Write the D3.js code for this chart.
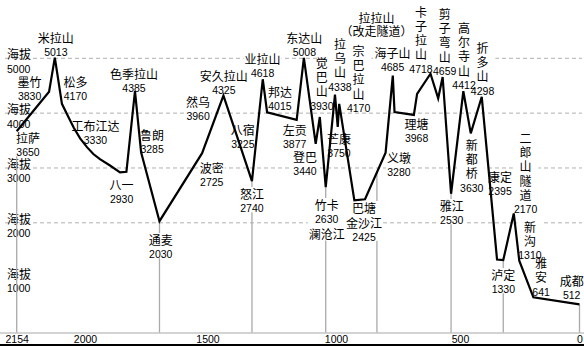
<!DOCTYPE html>
<html><head><meta charset="utf-8">
<script src="https://cdn.jsdelivr.net/npm/d3@7"></script>
<style>
html,body{margin:0;padding:0;background:#fff;overflow:hidden}
svg{display:block}
.cn{font-family:"Noto Sans CJK SC",sans-serif;font-size:12px;fill:#000}
.num{font-family:"Liberation Sans",Arial,sans-serif;font-size:10.5px;fill:#000}
.vert{writing-mode:vertical-rl;text-orientation:upright;letter-spacing:2.2px}
</style></head><body>
<svg id="chart" width="584" height="362"></svg>
<script>
// ---- data (distance to Chengdu in km, elevation in m) ----
const profileKm   = [2154,2081,2068,2052,2038,2025,2011,1992,1966,1939,1898,1857,1831,1796,1771,1696,1522,1438,1327,1285,1268,1153,1125,1079,1063,1040,1004,993,987,926,883,800,771,764,686,673,619,588,570,536,486,455,409,345,319,275,252,193,0];
const profileElev = [3670,4390,5013,4170,3940,3730,3540,3380,3255,3160,3045,2920,2930,4400,3285,2030,3270,4320,2760,4618,4015,3877,5008,3440,3930,2650,4338,3750,4170,2410,2430,3280,4685,4020,3968,4350,4718,4270,4659,2530,4400,3630,4298,1330,1320,2170,1310,641,512];

const stationNames = ["拉萨","墨竹","米拉山","松多","工布江达","八一","色季拉山","鲁朗","通麦","波密","然乌","安久拉山","八宿","怒江","业拉山","邦达","左贡","东达山","登巴","觉巴山","竹卡","拉乌山","芒康","宗巴拉山","拉拉山","巴塘","义墩","海子山","理塘","卡子拉山","剪子弯山","雅江","高尔寺山","新都桥","折多山","康定","泸定","二郎山隧道","新沟","雅安","成都"];
const stationKm    = [2154,2081,2068,2052,1992,1831,1796,1771,1696,1599,1522,1438,1360,1327,1285,1268,1153,1125,1079,1063,1040,1004,993,987,839,926,800,771,686,619,570,536,486,455,409,368,345,275,252,193,0];
const stationElev  = [3650,3830,5013,4170,3330,2930,4385,3285,2030,2725,3960,4325,3225,2740,4618,4015,3877,5008,3440,3930,2630,4338,3750,4170,null,2425,3280,4685,3968,4718,4659,2530,4412,3630,4298,2395,1330,2170,1310,641,512];
const stationNotes = {"竹卡":"澜沧江","巴塘":"金沙江","拉拉山":"（改走隧道）"};

const xTicks     = [2154,2000,1500,1000,500,0];
const yLabelVals = [1000,2000,3000,4000,5000];
const gridVals   = [2000,3000,4000,5000];
const dropKm     = [2154,1696,1327,1040,835,536,319,0];

// ---- layout (label offsets in px from the station point) ----
const xKnotPx = [16.7,85,207.5,336,460,579.5]; // original axis is not uniform
const layout = {
 "拉萨":{dx:11.3,dy:10.7},"墨竹":{dx:-19.5,dy:-35.5},"米拉山":{dx:1,dy:-14.6},"松多":{dx:13.5,dy:-16.8},
 "工布江达":{dx:8.5,dy:-18.9},"八一":{dx:-4.8,dy:18.2},"色季拉山":{dx:-1,dy:-13},"鲁朗":{dx:11,dy:-12.3},
 "通麦":{dx:1.3,dy:23.8},"波密":{dx:28.5,dy:-10.1},"然乌":{dx:-4,dy:-8.3},"安久拉山":{dx:0.4,dy:-14.3},
 "八宿":{dx:-0.6,dy:-20.6},"怒江":{dx:0,dy:16.8},"业拉山":{dx:-0.2,dy:-15.3},"邦达":{dx:12.8,dy:-15.3},
 "左贡":{dx:-2,dy:15.1},"东达山":{dx:0.5,dy:-14.9},"登巴":{dx:-10.7,dy:18.2},"觉巴山":{dx:2,dy:-49,v:true},
 "竹卡":{dx:1,dy:21.7},"拉乌山":{dx:5,dy:-45.6,v:true},"芒康":{dx:1.3,dy:17.1},"宗巴拉山":{dx:19.4,dy:-47.8,v:true},
 "拉拉山":{dx:0.5,dy:-35.8,step:13.5},"巴塘":{dx:9.7,dy:13.5,noteFirst:true},"义墩":{dx:13.3,dy:10.4},
 "海子山":{dx:-0.2,dy:-17.6},"理塘":{dx:2.7,dy:14.1},"卡子拉山":{dx:-9.5,dy:-57.1,v:true},
 "剪子弯山":{dx:2,dy:-58,v:true},"雅江":{dx:0.7,dy:17.2},"高尔寺山":{dx:0.7,dy:-57.5,v:true},
 "新都桥":{dx:1,dy:16.6,v:true},"折多山":{dx:0.8,dy:-43.8,v:true},"康定":{dx:8.5,dy:-19.2},
 "泸定":{dx:6.3,dy:20.4},"二郎山隧道":{dx:11.8,dy:-70.5,v:true},"新沟":{dx:10.7,dy:-28.7,v:true},
 "雅安":{dx:7.7,dy:-29.3,v:true},"成都":{dx:-7.8,dy:-18.4}
};
const CH_PITCH = 14.2, EM_TOP = 10.56;

const svg = d3.select("#chart");
const x = d3.scaleLinear().domain(xTicks).range(xKnotPx);
const y = d3.scaleLinear().domain([0,5000]).range([332.5,58.3]);
const elevAt = d3.scaleLinear().domain(profileKm).range(profileElev);

// grid
svg.append("g").selectAll("line").data(gridVals).join("line")
  .attr("x1",5).attr("x2",582).attr("y1",d=>y(d)).attr("y2",d=>y(d))
  .attr("stroke","#b0b0b0").attr("stroke-width",1).attr("stroke-dasharray","4,3");

// y labels
const yl = svg.append("g");
yLabelVals.forEach(v=>{
  yl.append("text").attr("class","cn").attr("x",7).attr("y",y(v)+1).text("海拔");
  yl.append("text").attr("class","num").attr("x",7).attr("y",y(v)+14.5).text(v);
});

// baseline
svg.append("line").attr("x1",0).attr("x2",584).attr("y1",y(0)+0.5).attr("y2",y(0)+0.5)
  .attr("stroke","#c4c4c4").attr("stroke-width",1.5);

// drop lines
svg.append("g").selectAll("line").data(dropKm).join("line")
  .attr("x1",d=>x(d)).attr("x2",d=>x(d))
  .attr("y1",d=>y(elevAt(d))).attr("y2",y(0))
  .attr("stroke","#aaaaaa").attr("stroke-width",1.3);

// station labels
const bgLayer = svg.append("g");
const textLayer = svg.append("g");
const blocks = [];
stationNames.forEach((name,i)=>{
  const L = layout[name];
  const e = stationElev[i];
  const px = x(stationKm[i]), py = y(e!=null ? e : 5000);
  const cx = px + L.dx;
  const g = textLayer.append("g");
  let yy = py + L.dy;               // baseline of first line / first char
  let prev = "cn";
  if (L.v) {
    g.append("text").attr("class","cn vert").attr("x",cx).attr("y",yy - EM_TOP).text(name);
    yy += (name.length - 1) * CH_PITCH;
  } else {
    g.append("text").attr("class","cn").attr("x",cx).attr("y",yy).attr("text-anchor","middle").text(name);
  }
  const parts = [];
  const note = stationNotes[name];
  if (note && L.noteFirst) parts.push({t:note,c:"cn"});
  if (e!=null) parts.push({t:String(e),c:"num"});
  if (note && !L.noteFirst) parts.push({t:note,c:"cn"});
  parts.forEach(p=>{
    if (p.c==="num") yy += 13.3;
    else if (prev==="num") yy += 16.2;
    else yy += L.step || 14.5;
    g.append("text").attr("class",p.c).attr("x",cx).attr("y",yy).attr("text-anchor","middle").text(p.t);
    prev = p.c;
  });
  blocks.push(g);
});
blocks.forEach(g=>{
  const b = g.node().getBBox();
  bgLayer.append("rect").attr("x",b.x-1).attr("y",b.y+2).attr("width",b.width+2).attr("height",b.height-4)
    .attr("fill","#fff");
});

// profile line
svg.append("path")
  .datum(profileKm.map((k,i)=>[k,profileElev[i]]))
  .attr("fill","none").attr("stroke","#000").attr("stroke-width",2.2)
  .attr("stroke-linejoin","miter")
  .attr("d", d3.line().x(d=>x(d[0])).y(d=>y(d[1])));

// x axis labels
const ax = svg.append("g").attr("transform",`translate(0,${y(0)+0.5})`)
  .call(d3.axisBottom(x).tickValues(xTicks).tickSize(0).tickPadding(3).tickFormat(d3.format("d")));
ax.select(".domain").remove();
ax.selectAll("text").attr("class","num").attr("font-family",null).attr("font-size",null).attr("fill",null);

// bottom rule
svg.append("line").attr("x1",0).attr("x2",584).attr("y1",345).attr("y2",345)
  .attr("stroke","#000").attr("stroke-width",2);
</script>
</body></html>
